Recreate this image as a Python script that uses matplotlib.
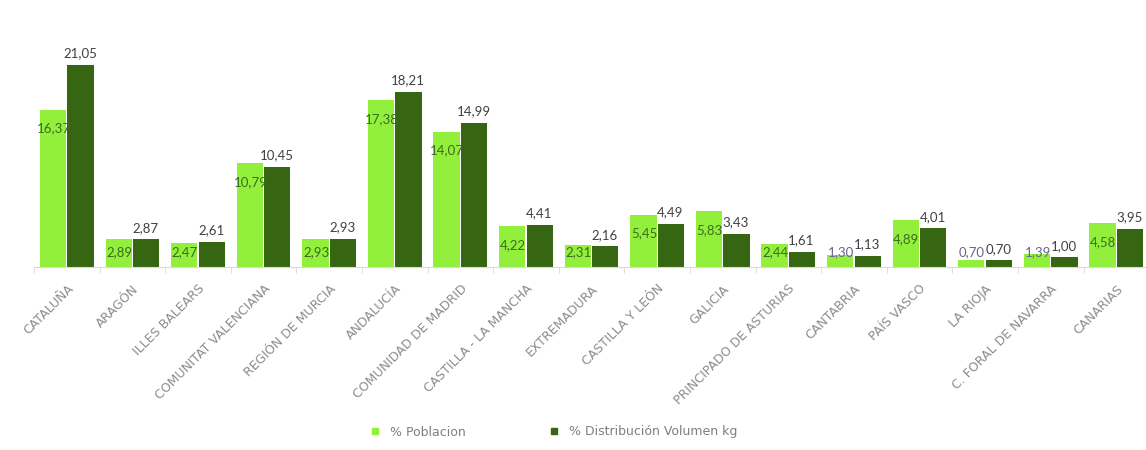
import numpy as np
import matplotlib
matplotlib.use('Agg')
import matplotlib.pyplot as plt
from matplotlib.lines import Line2D

# Data
regiones = [
    "CATALUÑA", "ARAGÓN", "ILLES BALEARS", "COMUNITAT VALENCIANA",
    "REGIÓN DE MURCIA", "ANDALUCÍA", "COMUNIDAD DE MADRID",
    "CASTILLA - LA MANCHA", "EXTREMADURA", "CASTILLA Y LEÓN", "GALICIA",
    "PRINCIPADO DE ASTURIAS", "CANTABRIA", "PAÍS VASCO", "LA RIOJA",
    "C. FORAL DE NAVARRA", "CANARIAS",
]
poblacion = [16.37, 2.89, 2.47, 10.79, 2.93, 17.38, 14.07, 4.22, 2.31,
             5.45, 5.83, 2.44, 1.30, 4.89, 0.70, 1.39, 4.58]
distribucion = [21.05, 2.87, 2.61, 10.45, 2.93, 18.21, 14.99, 4.41, 2.16,
                4.49, 3.43, 1.61, 1.13, 4.01, 0.70, 1.00, 3.95]
series_names = ["% Poblacion", "% Distribución Volumen kg"]

light = '#92F03C'
dark = '#376612'
plt.rcParams['font.family'] = ['Lato', 'DejaVu Sans']

def fmt(v):
    return f"{v:.2f}".replace('.', ',')

fig = plt.figure(figsize=(11.46, 4.5), dpi=100)
ax = fig.add_axes([0.0297, 0.4067, 0.973, 0.5333])

x = np.arange(len(regiones))
w = 0.40
b1 = ax.bar(x - w / 2 - 0.01, poblacion, w, color=light)
b2 = ax.bar(x + w / 2 + 0.01, distribucion, w, color=dark)

ax.set_xlim(-0.5, len(regiones) - 0.5)
ax.set_ylim(0, 25)

# labels of the light bars sit inside the top end, clamped near the base
for xi, v in zip(x, poblacion):
    y = max(v - 1.95, 1.55)
    col = '#3d6b1f' if v > 2 else '#66668f'
    ax.text(xi - w / 2, y, fmt(v), ha='center', va='center',
            fontsize=9.5, color=col)

for xi, v in zip(x, distribucion):
    ax.annotate(fmt(v), (xi + w / 2, v), xytext=(0, 4),
                textcoords='offset points', ha='center', va='bottom',
                fontsize=9.5, color='#404040')

ax.set_xticks(x)
ax.set_xticklabels(regiones, rotation=45, ha='right', va='top',
                   rotation_mode='anchor', fontsize=9, color='#8c8c8c',
                   family='DejaVu Sans')
ax.tick_params(axis='x', length=0, pad=11)
ax.set_xticks(np.arange(-0.5, len(regiones), 1), minor=True)
ax.tick_params(axis='x', which='minor', length=4, color='#d9d9d9')
ax.set_yticks([])
for s in ['top', 'right', 'left']:
    ax.spines[s].set_visible(False)
ax.spines['bottom'].set_color('#d9d9d9')

handles = [
    Line2D([], [], marker='s', linestyle='', markersize=5,
           markerfacecolor=light, markeredgecolor=light),
    Line2D([], [], marker='s', linestyle='', markersize=5,
           markerfacecolor=dark, markeredgecolor=dark),
]
fig.legend(handles, series_names, loc='center', bbox_to_anchor=(0.48, 0.04),
           ncol=2, frameon=False, prop={'family': 'DejaVu Sans', 'size': 9},
           labelcolor='#7f7f7f', columnspacing=6.1, handletextpad=0.2)

fig.savefig('out.png', dpi=100)
